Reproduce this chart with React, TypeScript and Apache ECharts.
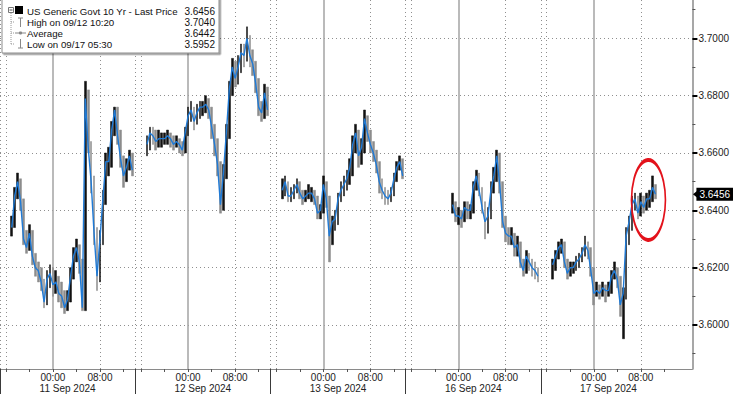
import React, { useEffect, useRef } from 'react';
import * as echarts from 'echarts';

// ---- data ----
const SESSION_DAYS = ['11 Sep 2024', '12 Sep 2024', '13 Sep 2024', '16 Sep 2024', '17 Sep 2024'];
const SESSION_LEN = 23; // trading hours per session (15:00 -> 14:00 next day)
const FIRST_HOUR = [2, 2, 2, 8, 2]; // hours after session start of first 30-min bar
const STEP = 0.5;

// 30-min closes
const C0 = [3.634, 3.645, 3.650, 3.643, 3.630, 3.627, 3.632, 3.624, 3.620, 3.619, 3.615, 3.608, 3.616, 3.618, 3.614, 3.615, 3.611, 3.610, 3.606, 3.609, 3.617, 3.624, 3.627, 3.622, 3.606, 3.679, 3.662, 3.650, 3.632, 3.617, 3.630, 3.644, 3.657, 3.657, 3.668, 3.675, 3.666, 3.658, 3.652, 3.655, 3.659, 3.654];
const C1 = [3.663, 3.667, 3.666, 3.664, 3.665, 3.665, 3.665, 3.666, 3.665, 3.663, 3.664, 3.663, 3.661, 3.667, 3.673, 3.675, 3.671, 3.674, 3.676, 3.676, 3.677, 3.675, 3.669, 3.663, 3.656, 3.642, 3.653, 3.667, 3.682, 3.690, 3.686, 3.690, 3.695, 3.694, 3.700, 3.694, 3.691, 3.684, 3.676, 3.674, 3.681, 3.675];
const C2 = [3.647, 3.650, 3.645, 3.645, 3.647, 3.649, 3.646, 3.644, 3.645, 3.646, 3.646, 3.644, 3.639, 3.640, 3.649, 3.644, 3.631, 3.636, 3.637, 3.644, 3.647, 3.649, 3.651, 3.655, 3.663, 3.667, 3.659, 3.662, 3.672, 3.667, 3.663, 3.660, 3.656, 3.650, 3.647, 3.645, 3.644, 3.646, 3.651, 3.655, 3.657, 3.652];
const C3 = [3.642, 3.638, 3.638, 3.637, 3.641, 3.640, 3.640, 3.648, 3.652, 3.647, 3.641, 3.636, 3.638, 3.647, 3.652, 3.659, 3.649, 3.636, 3.632, 3.631, 3.631, 3.627, 3.628, 3.622, 3.619, 3.624, 3.622, 3.620, 3.619, 3.617];
const C4 = [3.621, 3.624, 3.627, 3.628, 3.622, 3.618, 3.620, 3.620, 3.622, 3.623, 3.625, 3.628, 3.626, 3.619, 3.611, 3.612, 3.611, 3.613, 3.612, 3.612, 3.617, 3.619, 3.616, 3.607, 3.611, 3.631, 3.636, 3.642, 3.644, 3.639, 3.643, 3.641, 3.644, 3.644, 3.648, 3.6456];

// 30-min highs
const H0 = [3.638, 3.648, 3.653, 3.651, 3.644, 3.633, 3.635, 3.633, 3.625, 3.622, 3.620, 3.616, 3.619, 3.621, 3.620, 3.619, 3.617, 3.615, 3.612, 3.612, 3.620, 3.627, 3.630, 3.628, 3.623, 3.685, 3.682, 3.664, 3.652, 3.634, 3.633, 3.647, 3.660, 3.662, 3.671, 3.676, 3.676, 3.668, 3.659, 3.658, 3.661, 3.660];
const H1 = [3.666, 3.669, 3.669, 3.668, 3.668, 3.667, 3.667, 3.668, 3.667, 3.666, 3.666, 3.665, 3.664, 3.669, 3.676, 3.678, 3.676, 3.677, 3.678, 3.678, 3.680, 3.679, 3.676, 3.670, 3.665, 3.657, 3.656, 3.670, 3.685, 3.693, 3.692, 3.694, 3.698, 3.698, 3.704, 3.701, 3.696, 3.692, 3.686, 3.678, 3.684, 3.683];
const H2 = [3.651, 3.652, 3.650, 3.648, 3.649, 3.651, 3.650, 3.647, 3.647, 3.649, 3.648, 3.647, 3.645, 3.642, 3.652, 3.650, 3.645, 3.638, 3.640, 3.646, 3.650, 3.652, 3.654, 3.658, 3.666, 3.670, 3.668, 3.665, 3.675, 3.673, 3.668, 3.664, 3.661, 3.657, 3.651, 3.648, 3.647, 3.648, 3.653, 3.657, 3.659, 3.658];
const H3 = [3.646, 3.643, 3.641, 3.640, 3.643, 3.643, 3.642, 3.650, 3.654, 3.653, 3.648, 3.643, 3.641, 3.650, 3.655, 3.661, 3.660, 3.650, 3.638, 3.634, 3.634, 3.632, 3.631, 3.629, 3.623, 3.626, 3.625, 3.623, 3.622, 3.620];
const H4 = [3.623, 3.626, 3.629, 3.630, 3.629, 3.623, 3.622, 3.622, 3.624, 3.625, 3.627, 3.631, 3.629, 3.627, 3.620, 3.615, 3.614, 3.615, 3.614, 3.615, 3.619, 3.622, 3.620, 3.617, 3.613, 3.634, 3.638, 3.645, 3.646, 3.645, 3.646, 3.645, 3.646, 3.647, 3.652, 3.649];

// 30-min lows
const L0 = [3.631, 3.634, 3.644, 3.640, 3.628, 3.625, 3.626, 3.621, 3.617, 3.615, 3.612, 3.606, 3.607, 3.613, 3.610, 3.611, 3.608, 3.606, 3.604, 3.605, 3.608, 3.616, 3.622, 3.618, 3.605, 3.605, 3.660, 3.646, 3.628, 3.612, 3.615, 3.628, 3.642, 3.652, 3.655, 3.666, 3.663, 3.655, 3.648, 3.650, 3.654, 3.652];
const L1 = [3.659, 3.661, 3.663, 3.661, 3.662, 3.662, 3.663, 3.663, 3.662, 3.661, 3.662, 3.660, 3.659, 3.660, 3.666, 3.671, 3.668, 3.670, 3.672, 3.673, 3.674, 3.672, 3.665, 3.659, 3.652, 3.639, 3.640, 3.651, 3.665, 3.680, 3.683, 3.684, 3.688, 3.690, 3.692, 3.690, 3.687, 3.681, 3.673, 3.671, 3.672, 3.673];
const L2 = [3.644, 3.645, 3.643, 3.643, 3.644, 3.646, 3.644, 3.642, 3.643, 3.644, 3.643, 3.642, 3.637, 3.637, 3.639, 3.641, 3.622, 3.628, 3.633, 3.635, 3.643, 3.645, 3.647, 3.649, 3.652, 3.660, 3.655, 3.656, 3.660, 3.664, 3.660, 3.657, 3.653, 3.646, 3.644, 3.642, 3.642, 3.643, 3.645, 3.650, 3.654, 3.651];
const L3 = [3.639, 3.636, 3.635, 3.634, 3.636, 3.637, 3.637, 3.639, 3.647, 3.645, 3.639, 3.630, 3.632, 3.637, 3.646, 3.650, 3.646, 3.634, 3.629, 3.628, 3.628, 3.624, 3.624, 3.620, 3.617, 3.618, 3.619, 3.617, 3.616, 3.615];
const L4 = [3.616, 3.619, 3.623, 3.625, 3.620, 3.616, 3.617, 3.618, 3.619, 3.620, 3.622, 3.624, 3.623, 3.617, 3.607, 3.610, 3.609, 3.610, 3.608, 3.610, 3.611, 3.616, 3.613, 3.603, 3.5952, 3.609, 3.628, 3.633, 3.640, 3.637, 3.638, 3.639, 3.640, 3.641, 3.643, 3.644];

const CLOSES = [C0, C1, C2, C3, C4];
const HIGHS = [H0, H1, H2, H3, H4];
const LOWS = [L0, L1, L2, L3, L4];

const Y_TICKS = [3.60, 3.62, 3.64, 3.66, 3.68, 3.70];
const Y_MINOR = [3.59, 3.61, 3.63, 3.65, 3.67, 3.69, 3.71];
const TICK_HOURS = [1, 5, 9, 13, 17, 21]; // 16:00, 20:00, 00:00, 04:00, 08:00, 12:00
const LABEL_HOURS = [9, 17];
const LABEL_TEXT: Record<number, string> = { 9: '00:00', 17: '08:00' };
const SOLID_HOURS = [9];
const DOTTED_HOURS = [1, 17];
const LAST_PRICE = 3.6456;
const LEGEND_ROWS = [
  ['US Generic Govt 10 Yr - Last Price', '3.6456'],
  ['High on 09/12 10:20', '3.7040'],
  ['Average', '3.6442'],
  ['Low on 09/17 05:30', '3.5952'],
];
const HIGHLIGHT = { session: 4, hour: 18.3, value: 3.6436 };

const Y_MIN = 3.58465;
const Y_MAX = 3.71336;
const X_MAX = 117.78;

const FONT = '"Liberation Sans", Arial, sans-serif';

function perSession(hours: number[]) {
  const out: number[] = [];
  CLOSES.forEach((_, s) => hours.forEach((h) => out.push(s * SESSION_LEN + h)));
  return out.filter((v) => v <= X_MAX);
}

function buildOption() {
  const bars: any[] = [];
  const lines: number[][][] = [];
  CLOSES.forEach((vals, s) => {
    const pts: number[][] = [];
    vals.forEach((v, i) => {
      const x = s * SESSION_LEN + FIRST_HOUR[s] + i * STEP;
      const o = i === 0 ? v : vals[i - 1];
      const hi = HIGHS[s][i];
      const lo = LOWS[s][i];
      const up = v >= o;
      const col = up ? '#111111' : '#8c8c8c';
      // high-low bar drawn as a solid body spanning the bar's range
      bars.push({ value: [x, lo, hi, lo, hi], itemStyle: { color: col, borderColor: col } });
      pts.push([x, v]);
    });
    lines.push(pts);
  });

  const boundaries = CLOSES.map((_, s) => s * SESSION_LEN);
  const centers = CLOSES.map((_, s) => s * SESSION_LEN + SESSION_LEN / 2);

  const dotted = { type: [1, 3] as any, color: '#8f8f8f', width: 1 };

  const lineSeries: any[] = lines.map((pts, idx) => ({
    type: 'line',
    xAxisIndex: 0,
    yAxisIndex: 0,
    data: pts,
    showSymbol: false,
    symbol: 'none',
    lineStyle: { color: '#1f7ad6', width: 1.4 },
    z: 4,
    silent: true,
    ...(idx === lines.length - 1
      ? {
          markPoint: {
            silent: true,
            animation: false,
            label: { show: false },
            data: [
              {
                coord: [HIGHLIGHT.session * SESSION_LEN + HIGHLIGHT.hour, HIGHLIGHT.value],
                symbol: 'circle',
                symbolSize: [34, 80],
                itemStyle: { color: 'rgba(0,0,0,0)', borderColor: '#e3121b', borderWidth: 2.5 },
              },
              {
                coord: [X_MAX, LAST_PRICE],
                symbol: 'triangle',
                symbolRotate: 90,
                symbolSize: [8, 5],
                symbolOffset: [3, 0],
                itemStyle: { color: '#000' },
              },
            ],
          },
        }
      : {}),
  }));

  const legendGraphics: any[] = [
    {
      type: 'rect',
      z: 100,
      shape: { x: 2, y: -2, width: 217, height: 55 },
      style: { fill: '#fff', stroke: '#8c8c8c', lineWidth: 1, shadowColor: 'rgba(0,0,0,0.4)', shadowOffsetX: 1.5, shadowOffsetY: 1.5, shadowBlur: 1 },
    },
    { type: 'rect', z: 101, shape: { x: 8.5, y: 7.5, width: 5, height: 5 }, style: { fill: '#fff', stroke: '#777', lineWidth: 1 } },
    { type: 'line', z: 101, shape: { x1: 9.5, y1: 10, x2: 12.5, y2: 10 }, style: { stroke: '#555', lineWidth: 1 } },
    { type: 'rect', z: 101, shape: { x: 15, y: 6, width: 8, height: 8 }, style: { fill: '#000' } },
    { type: 'line', z: 101, shape: { x1: 11, y1: 13, x2: 11, y2: 44 }, style: { stroke: '#999', lineWidth: 1, lineDash: [1, 1] } },
    { type: 'line', z: 101, shape: { x1: 11, y1: 22, x2: 15, y2: 22 }, style: { stroke: '#999', lineWidth: 1, lineDash: [1, 1] } },
    { type: 'line', z: 101, shape: { x1: 11, y1: 33, x2: 14, y2: 33 }, style: { stroke: '#999', lineWidth: 1, lineDash: [1, 1] } },
    { type: 'line', z: 101, shape: { x1: 11, y1: 44, x2: 15, y2: 44 }, style: { stroke: '#999', lineWidth: 1, lineDash: [1, 1] } },
    // High icon
    { type: 'line', z: 101, shape: { x1: 18, y1: 18, x2: 23, y2: 18 }, style: { stroke: '#888', lineWidth: 1 } },
    { type: 'line', z: 101, shape: { x1: 20.5, y1: 18, x2: 20.5, y2: 27 }, style: { stroke: '#888', lineWidth: 1 } },
    // Average icon
    { type: 'line', z: 101, shape: { x1: 15, y1: 33, x2: 26, y2: 33 }, style: { stroke: '#888', lineWidth: 1 } },
    { type: 'circle', z: 101, shape: { cx: 20.5, cy: 33, r: 1.6 }, style: { fill: '#888' } },
    // Low icon
    { type: 'line', z: 101, shape: { x1: 20.5, y1: 39, x2: 20.5, y2: 48 }, style: { stroke: '#888', lineWidth: 1 } },
    { type: 'line', z: 101, shape: { x1: 18, y1: 48, x2: 23, y2: 48 }, style: { stroke: '#888', lineWidth: 1 } },
  ];
  LEGEND_ROWS.forEach(([label, value], i) => {
    const y = 11 + i * 11.2;
    legendGraphics.push({
      type: 'text', z: 102, x: 27, y,
      style: { text: label, fontSize: 9.7, fontFamily: FONT, fill: '#111', verticalAlign: 'middle', align: 'left' },
    });
    legendGraphics.push({
      type: 'text', z: 102, x: 215, y,
      style: { text: value, fontSize: 10, fontFamily: FONT, fill: '#111', verticalAlign: 'middle', align: 'right' },
    });
  });

  return {
    animation: false,
    backgroundColor: '#ffffff',
    textStyle: { fontFamily: FONT },
    grid: { left: 0, right: 37, top: 0, bottom: 25, containLabel: false },
    xAxis: [
      {
        type: 'value', min: 0, max: X_MAX, position: 'bottom',
        axisLine: { show: true, onZero: false, lineStyle: { color: '#8a8a8a', width: 1 } },
        axisTick: { show: true, customValues: perSession(TICK_HOURS), length: 3, lineStyle: { color: '#555' } },
        axisLabel: {
          show: true, customValues: perSession(LABEL_HOURS), margin: 3, fontSize: 10, color: '#222', fontFamily: FONT,
          formatter: (v: number) => LABEL_TEXT[Math.round(((v % SESSION_LEN) + SESSION_LEN) % SESSION_LEN)] || '',
        },
        splitLine: { show: false },
      },
      {
        type: 'value', min: 0, max: X_MAX, position: 'bottom',
        axisLine: { show: false, onZero: false },
        axisTick: { show: true, customValues: boundaries, length: 25, lineStyle: { color: '#3a3a3a', width: 1 } },
        axisLabel: {
          show: true, customValues: centers, margin: 14, fontSize: 10, color: '#222', fontFamily: FONT,
          formatter: (v: number) => SESSION_DAYS[Math.floor(v / SESSION_LEN)] || '',
        },
        splitLine: { show: true, lineStyle: dotted },
      },
      {
        type: 'value', min: 0, max: X_MAX, position: 'bottom',
        axisLine: { show: false, onZero: false },
        axisTick: { show: false, customValues: perSession(SOLID_HOURS) },
        axisLabel: { show: false },
        splitLine: { show: true, lineStyle: { color: '#a3a3a3', width: 1.5, type: 'solid' } },
      },
      {
        type: 'value', min: 0, max: X_MAX, position: 'bottom',
        axisLine: { show: false, onZero: false },
        axisTick: { show: false, customValues: perSession(DOTTED_HOURS) },
        axisLabel: { show: false },
        splitLine: { show: true, lineStyle: dotted },
      },
    ],
    yAxis: [
      {
        type: 'value', min: Y_MIN, max: Y_MAX, position: 'right',
        axisLine: { show: true, onZero: false, lineStyle: { color: '#8a8a8a', width: 1.5 } },
        axisTick: { show: true, customValues: Y_TICKS, length: 5, lineStyle: { color: '#000', width: 2 } },
        axisLabel: {
          show: true, customValues: Y_TICKS, margin: 6, fontSize: 10, color: '#222', fontFamily: FONT,
          formatter: (v: number) => v.toFixed(4),
        },
        splitLine: { show: true, lineStyle: dotted },
      },
      {
        type: 'value', min: Y_MIN, max: Y_MAX, position: 'right',
        axisLine: { show: false, onZero: false },
        axisTick: { show: true, customValues: Y_MINOR, length: 3, lineStyle: { color: '#555', width: 1 } },
        axisLabel: { show: false },
        splitLine: { show: false },
      },
      {
        type: 'value', min: Y_MIN, max: Y_MAX, position: 'right',
        axisLine: { show: false, onZero: false },
        axisTick: { show: false },
        axisLabel: {
          show: true, customValues: [LAST_PRICE], margin: 4, fontSize: 10, color: '#fff', fontFamily: FONT,
          backgroundColor: '#000', padding: [2, 3, 1, 3],
          formatter: (v: number) => v.toFixed(4),
        },
        splitLine: { show: false },
      },
    ],
    series: [
      {
        type: 'candlestick',
        xAxisIndex: 0,
        yAxisIndex: 0,
        data: bars,
        encode: { x: 0, y: [1, 2, 3, 4] },
        barWidth: 2.2,
        silent: true,
        z: 3,
        itemStyle: { borderWidth: 0.5 },
      },
      ...lineSeries,
    ],
    graphic: legendGraphics,
  };
}

export default function App() {
  const ref = useRef<HTMLDivElement>(null);
  useEffect(() => {
    if (!ref.current) return;
    const chart = echarts.init(ref.current, undefined, { renderer: 'svg' });
    chart.setOption(buildOption() as any);
    return () => chart.dispose();
  }, []);
  return (
    <div
      ref={ref}
      style={{ position: 'absolute', left: 0, top: 0, width: 736, height: 394, background: '#fff' }}
    />
  );
}
